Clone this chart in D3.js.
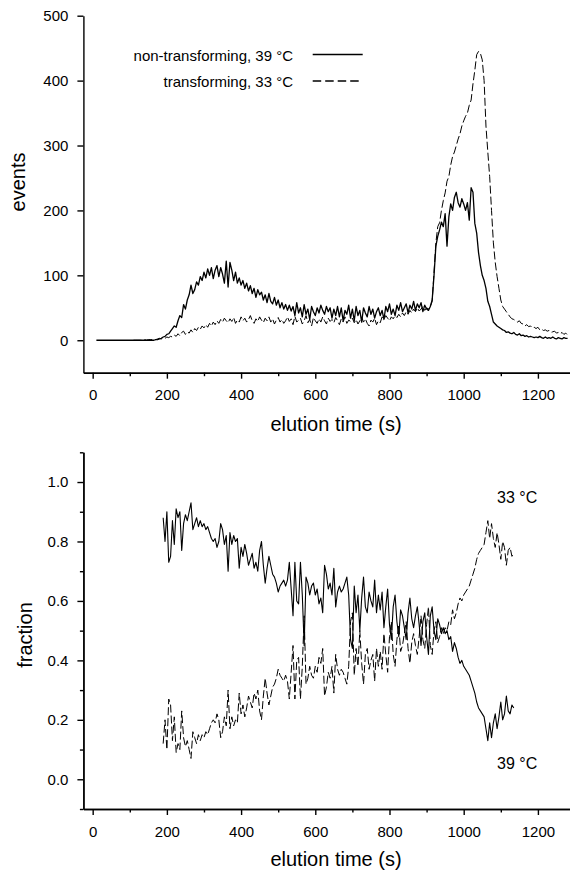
<!DOCTYPE html>
<html>
<head>
<meta charset="utf-8">
<script src="https://cdn.jsdelivr.net/npm/d3@7"></script>
<style>
  body { margin: 0; background: #fff; }
  svg { display: block; font-family: "Liberation Sans", Arial, sans-serif; }
  .axis path, .axis line { stroke: #000; stroke-width: 1.4; }
  .axis text { font-size: 15px; fill: #000; font-family: "Liberation Sans", Arial, sans-serif; }
  .title { font-size: 20px; fill: #000; }
</style>
</head>
<body>
<div id="chart"></div>
<script>
// top panel: events per 5 s bin
const eventsStep = 5;
const events39Start = 10;
const events39 = [
  0,0,0,0,0,0,0,0,0,0,
  0,0,0,0,0,0,0,0,0,0,
  0,0,0,0,0,0,0,0,0,0,
  0,0,1,1,2,3,5,6,9,10,
  14,18,22,20,30,38,35,55,48,62,
  70,85,72,78,90,85,98,92,105,96,
  110,100,112,95,108,115,98,112,102,88,
  122,82,120,108,92,105,88,96,85,92,
  80,88,76,84,72,80,66,78,70,74,
  62,70,58,72,60,56,66,54,62,50,
  58,48,55,46,54,45,52,38,58,42,
  50,36,55,40,48,32,52,44,38,50,
  42,54,46,40,52,44,50,34,48,38,
  52,36,50,30,46,40,54,34,48,30,
  52,38,46,28,50,42,36,52,40,48,
  34,44,50,38,46,32,52,44,56,40,
  48,38,54,46,58,44,50,56,42,54,
  48,60,46,56,50,58,44,54,48,46,
  52,62,100,145,160,170,182,175,195,145,
  190,210,200,220,228,212,205,218,210,200,
  212,185,235,228,180,165,135,115,100,92,
  80,60,52,40,28,25,22,20,18,16,
  15,12,13,11,10,12,9,8,10,7,
  8,6,7,5,6,5,4,5,4,6,
  4,3,5,3,4,3,5,3,2,4,
  3,2,4,3,3
];
const events33Start = 110;
const events33 = [
  0,0,0,0,0,0,1,0,1,1,
  1,2,1,2,3,2,4,3,5,4,
  6,5,8,6,10,7,12,14,9,13,
  11,16,12,18,15,20,17,22,19,24,
  20,26,22,28,24,30,26,32,28,34,
  30,27,33,29,35,26,31,28,36,30,
  34,28,32,38,30,26,33,29,36,31,
  27,34,30,36,28,33,25,31,35,28,
  32,26,30,36,29,33,24,37,28,31,
  34,25,30,38,27,32,22,35,30,26,
  33,28,36,30,25,34,29,32,27,35,
  30,24,33,28,36,26,31,29,34,27,
  32,25,30,36,28,33,26,22,31,28,
  34,24,30,27,36,32,38,34,30,36,
  33,38,35,40,36,42,38,44,40,46,
  42,48,44,50,45,48,52,46,50,48,
  52,60,105,150,175,181,200,215,227,245,
  252,270,283,290,300,310,318,330,338,345,
  350,362,370,395,416,440,445,442,432,400,
  330,290,252,200,150,120,98,80,62,52,
  48,44,40,36,33,32,30,28,30,26,
  25,22,24,21,22,19,20,18,20,16,
  17,15,16,14,15,12,13,14,11,12,
  10,12,9,11,8
];

// bottom panel: fraction of each population, 5 s bins
const fracStep = 5;
const fracStart = 190;
const frac39 = [
  0.88,0.80,0.90,0.73,0.75,0.87,0.79,0.91,0.88,0.90,
  0.77,0.86,0.89,0.87,0.90,0.93,0.84,0.86,0.88,0.85,
  0.87,0.85,0.86,0.84,0.85,0.83,0.81,0.80,0.81,0.78,
  0.80,0.86,0.84,0.79,0.82,0.70,0.83,0.79,0.82,0.80,
  0.81,0.71,0.78,0.75,0.79,0.76,0.72,0.74,0.76,0.71,
  0.73,0.70,0.77,0.80,0.72,0.66,0.71,0.75,0.72,0.69,
  0.68,0.66,0.63,0.65,0.66,0.67,0.65,0.67,0.73,0.64,
  0.55,0.73,0.60,0.59,0.73,0.62,0.45,0.68,0.66,0.62,
  0.65,0.66,0.62,0.64,0.59,0.61,0.56,0.72,0.69,0.64,
  0.66,0.62,0.71,0.58,0.63,0.65,0.63,0.64,0.66,0.68,
  0.62,0.47,0.44,0.65,0.56,0.62,0.50,0.61,0.68,0.58,
  0.56,0.63,0.60,0.58,0.67,0.56,0.62,0.57,0.63,0.51,
  0.58,0.64,0.52,0.47,0.58,0.62,0.53,0.48,0.57,0.55,
  0.51,0.47,0.56,0.61,0.54,0.51,0.55,0.58,0.52,0.45,
  0.53,0.56,0.48,0.42,0.55,0.58,0.50,0.47,0.54,0.52,
  0.49,0.51,0.49,0.50,0.47,0.48,0.43,0.46,0.44,0.41,
  0.39,0.40,0.38,0.37,0.36,0.35,0.33,0.31,0.29,0.26,
  0.24,0.23,0.22,0.21,0.17,0.13,0.19,0.14,0.19,0.22,
  0.17,0.21,0.26,0.20,0.22,0.28,0.23,0.22,0.25,0.24
];
const frac33 = [
  0.12,0.20,0.10,0.27,0.25,0.13,0.21,0.09,0.12,0.10,
  0.23,0.14,0.11,0.13,0.10,0.07,0.16,0.14,0.12,0.15,
  0.13,0.15,0.14,0.16,0.15,0.17,0.19,0.20,0.19,0.22,
  0.20,0.14,0.16,0.21,0.18,0.30,0.17,0.21,0.18,0.20,
  0.19,0.29,0.22,0.25,0.21,0.24,0.28,0.26,0.24,0.29,
  0.27,0.30,0.23,0.20,0.28,0.34,0.29,0.25,0.28,0.31,
  0.32,0.34,0.37,0.35,0.34,0.33,0.35,0.33,0.27,0.36,
  0.45,0.27,0.40,0.41,0.27,0.38,0.55,0.32,0.34,0.38,
  0.35,0.34,0.38,0.36,0.41,0.39,0.44,0.28,0.31,0.36,
  0.34,0.38,0.29,0.42,0.37,0.35,0.37,0.36,0.34,0.32,
  0.38,0.53,0.56,0.35,0.44,0.38,0.50,0.39,0.32,0.42,
  0.44,0.37,0.40,0.42,0.33,0.44,0.38,0.43,0.37,0.49,
  0.42,0.36,0.48,0.53,0.42,0.38,0.47,0.52,0.43,0.45,
  0.49,0.53,0.44,0.39,0.46,0.49,0.45,0.42,0.48,0.55,
  0.47,0.44,0.52,0.58,0.45,0.42,0.50,0.53,0.46,0.48,
  0.51,0.49,0.51,0.50,0.53,0.52,0.57,0.54,0.56,0.59,
  0.61,0.60,0.62,0.63,0.64,0.65,0.67,0.69,0.71,0.74,
  0.76,0.77,0.78,0.79,0.83,0.87,0.81,0.86,0.81,0.78,
  0.83,0.79,0.74,0.80,0.78,0.72,0.77,0.78,0.75,0.76
];

const xTicks = [0, 200, 400, 600, 800, 1000, 1200];
const xMinorTicks = [100, 300, 500, 700, 900, 1100];
const eventsTicks = [0, 100, 200, 300, 400, 500];
const fracTicks = [0, 0.2, 0.4, 0.6, 0.8, 1.0];
const fracMinorTicks = [-0.1, 0.1, 0.3, 0.5, 0.7, 0.9, 1.1];
const legendLabels = ['non-transforming, 39 °C', 'transforming, 33 °C'];
const tempLabels = ['33 °C', '39 °C'];
const xTitle = 'elution time (s)';

const width = 570, height = 870;
const axisX = 83.4;

const svg = d3.select('#chart').append('svg')
  .attr('width', width)
  .attr('height', height);

const x = d3.scaleLinear().domain([-25, 1290]).range([axisX, 571.3]);
const yTop = d3.scaleLinear().domain([-50, 500]).range([372.7, 15.7]);
const yBot = d3.scaleLinear().domain([-0.1, 1.1]).range([809, 452.3]);

const toPoints = (vals, start, step) => vals.map((v, i) => ({t: start + i * step, v: v}));

function drawAxes(y, yTicks, yMinor, fmt, bottom) {
  svg.append('g')
    .attr('class', 'axis')
    .attr('transform', `translate(0,${bottom})`)
    .call(d3.axisBottom(x).tickValues(xTicks).tickFormat(d3.format('d'))
      .tickSize(6).tickPadding(11).tickSizeOuter(0));
  svg.append('g')
    .attr('class', 'axis')
    .attr('transform', `translate(0,${bottom})`)
    .call(d3.axisBottom(x).tickValues(xMinorTicks).tickSize(3.5).tickFormat('').tickSizeOuter(0));
  svg.append('g')
    .attr('class', 'axis')
    .attr('transform', `translate(${axisX},0)`)
    .call(d3.axisLeft(y).tickValues(yTicks).tickSize(6).tickPadding(9).tickFormat(fmt).tickSizeOuter(0));
  if (yMinor) {
    svg.append('g')
      .attr('class', 'axis')
      .attr('transform', `translate(${axisX},0)`)
      .call(d3.axisLeft(y).tickValues(yMinor).tickSize(3.5).tickFormat('').tickSizeOuter(0));
  }
}

function drawLine(y, pts, dashed, w) {
  const line = d3.line().x(d => x(d.t)).y(d => y(d.v));
  svg.append('path')
    .datum(pts)
    .attr('fill', 'none')
    .attr('stroke', '#000')
    .attr('stroke-width', w)
    .attr('stroke-linejoin', 'round')
    .attr('stroke-dasharray', dashed ? '8,3' : null)
    .attr('d', line);
}

// top panel
drawAxes(yTop, eventsTicks, null, d3.format('d'), 372.7);
drawLine(yTop, toPoints(events33, events33Start, eventsStep), true, 1);
drawLine(yTop, toPoints(events39, events39Start, eventsStep), false, 1.3);

svg.append('text')
  .attr('class', 'title')
  .attr('transform', 'translate(25,182) rotate(-90)')
  .attr('text-anchor', 'middle')
  .text('events');
svg.append('text')
  .attr('class', 'title')
  .attr('x', 336).attr('y', 431)
  .attr('text-anchor', 'middle')
  .text(xTitle);

// legend
const legend = svg.append('g');
legendLabels.forEach((lab, i) => {
  const ly = 55 + i * 26.5;
  legend.append('text')
    .attr('x', 293).attr('y', ly + 5.5)
    .attr('text-anchor', 'end')
    .attr('font-size', 15)
    .text(lab);
  legend.append('line')
    .attr('x1', 312.7).attr('x2', 362.7)
    .attr('y1', ly - 0.5).attr('y2', ly - 0.5)
    .attr('stroke', '#000')
    .attr('stroke-width', 1.6)
    .attr('stroke-dasharray', i === 1 ? '8.5,4' : null);
});

// bottom panel
drawAxes(yBot, fracTicks, fracMinorTicks, d3.format('.1f'), 809);
drawLine(yBot, toPoints(frac33, fracStart, fracStep), true, 1);
drawLine(yBot, toPoints(frac39, fracStart, fracStep), false, 1.1);

svg.append('text')
  .attr('class', 'title')
  .attr('transform', 'translate(31.7,635) rotate(-90)')
  .attr('text-anchor', 'middle')
  .text('fraction');
svg.append('text')
  .attr('class', 'title')
  .attr('x', 336).attr('y', 866)
  .attr('text-anchor', 'middle')
  .text(xTitle);

svg.selectAll('.temp')
  .data(tempLabels)
  .enter().append('text')
  .attr('class', 'temp')
  .attr('x', x(1090))
  .attr('y', (d, i) => yBot(i === 0 ? 0.93 : 0.035))
  .attr('font-size', 16)
  .text(d => d);
</script>
</body>
</html>
